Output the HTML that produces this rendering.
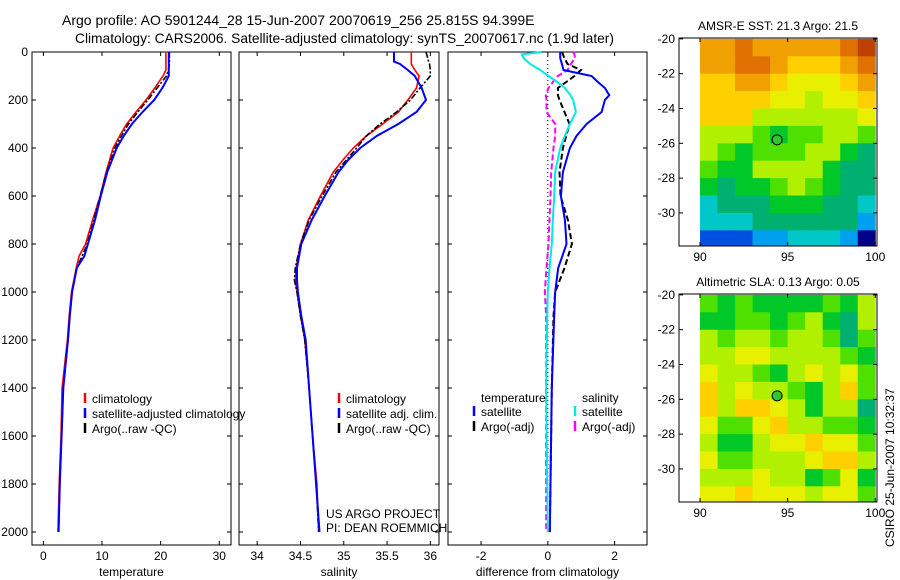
<!DOCTYPE html>
<html><head><meta charset="utf-8"><style>
html,body{margin:0;padding:0;background:#fff;}
svg{display:block;font-family:"Liberation Sans",sans-serif;}
</style></head><body>
<svg id="fig" width="900" height="580" viewBox="0 0 900 580">
<text x="62" y="25" font-size="14">Argo profile: AO 5901244_28 15-Jun-2007 20070619_256 25.815S 94.399E</text>
<text x="75" y="43" font-size="13.8" textLength="539">Climatology: CARS2006. Satellite-adjusted climatology: synTS_20070617.nc (1.9d later)</text>
<text x="0" y="0" font-size="12" transform="translate(894,547) rotate(-90)">CSIRO 25-Jun-2007 10:32:37</text>
</svg>
<script>
// ---- profile data ----
const tDepth = [0,50,75,100,150,200,250,300,350,400,500,600,700,800,850,900,1000,1100,1200,1400,1600,1800,2000];
const tempClim = [20.9,20.9,20.9,20.4,19.0,17.5,15.8,14.2,13.0,11.9,10.7,9.7,8.4,7.2,6.1,5.6,4.8,4.4,4.1,3.2,3.0,2.7,2.5];
const tempSat = [21.4,21.4,21.4,21.4,20.3,18.9,16.9,15.1,13.7,12.5,10.9,9.8,8.8,7.6,7.0,5.7,4.9,4.5,4.2,3.4,3.1,2.8,2.6];
const tempArgo = [21.5,21.5,21.3,21.0,19.4,17.8,16.1,14.5,13.3,12.2,10.8,9.7,8.6,7.5,6.6,5.7,4.9,4.5,4.2,3.4,3.1,2.8,2.6];
const sDepth = [0,25,40,50,75,100,150,200,250,300,350,400,450,500,600,700,800,900,950,1000,1100,1200,1400,1600,1800,2000];
const salClim = [35.78,35.78,35.78,35.78,35.82,35.87,35.84,35.74,35.63,35.45,35.26,35.11,34.99,34.88,34.73,34.59,34.50,34.45,34.44,34.46,34.50,34.55,34.60,34.64,34.69,34.71];
const salSat = [35.58,35.58,35.58,35.65,35.74,35.82,35.90,35.95,35.84,35.63,35.38,35.19,35.05,34.94,34.78,34.63,34.51,34.46,34.46,34.47,34.51,34.56,34.60,34.64,34.68,34.72];
const salArgo = [35.95,35.97,35.98,35.99,36.0,36.0,35.88,35.77,35.61,35.42,35.26,35.15,35.03,34.91,34.75,34.60,34.50,34.44,34.43,34.46,34.50,34.55,34.60,34.64,34.68,34.71];
const dDepth = [0,10,25,50,75,100,125,150,180,200,250,300,350,400,500,600,700,800,900,1000,1100,1400,2000];
const dTempSat = [0.37,0.37,0.37,0.42,0.47,1.31,1.5,1.71,1.84,1.71,1.61,1.16,0.86,0.66,0.45,0.39,0.51,0.56,0.31,0.22,0.19,0.12,0.06];
const dSalSat = [-0.18,-0.78,-0.73,-0.53,-0.23,0.02,0.28,0.51,0.68,0.76,0.84,0.66,0.51,0.37,0.22,0.19,0.15,0.12,0.05,0,-0.02,-0.05,0];
const dTempArgo = [0.43,0.45,0.5,0.59,0.99,0.8,0.55,0.3,0.3,0.35,0.5,0.65,0.55,0.45,0.35,0.38,0.6,0.72,0.5,0.22,0.17,0.12,0.06];
const dSalArgo = [0.76,0.8,0.81,0.69,0.59,0.3,0.15,0.02,-0.06,-0.04,-0.04,0.22,0.22,0.17,0.1,0.08,0.05,0.02,-0.04,-0.09,-0.05,-0.05,-0.05];
const depthTicks = [0,200,400,600,800,1000,1200,1400,1600,1800,2000];
const tempTicks = [0,10,20,30];
const salTicks = [34,34.5,35,35.5,36];
const salTickLabels = ["34","34.5","35","35.5","36"];
const diffTicks = [-2,0,2];
// ---- map data (colour index per 1-degree cell, rows from -20 southward, cols 90..100) ----
const sstGrid = [
[10,10,11,10,10,10,10,10,11,12],
[10,10,11,11,10,9,9,9,10,11],
[9,9,10,10,9,8,8,8,9,10],
[9,9,9,9,8,8,7,8,8,9],
[9,9,9,7,7,7,7,7,7,8],
[7,7,7,6,5,6,6,7,7,6],
[7,6,5,6,6,6,7,7,5,4],
[6,5,5,7,7,7,7,5,4,4],
[5,4,5,5,6,7,6,5,4,4],
[3,4,4,4,5,5,5,4,4,3],
[3,3,3,4,4,4,4,4,4,2],
[1,1,1,2,2,3,3,3,2,0]];
const slaGrid = [
[6,5,6,5,5,5,5,6,5,7],
[5,5,6,6,5,6,7,5,4,7],
[7,6,7,7,6,7,7,6,4,6],
[7,7,8,8,7,7,7,7,6,5],
[8,7,7,6,5,7,8,7,8,6],
[9,7,8,7,7,6,5,7,9,6],
[9,7,9,9,8,7,5,7,7,4],
[8,6,6,8,9,7,7,6,6,5],
[7,5,5,7,8,8,9,8,8,6],
[8,6,6,7,7,7,8,9,9,7],
[7,7,7,8,7,7,5,6,8,5],
[8,8,9,8,8,8,7,8,8,6]];
const palette = ["#00008b","#0050e0","#00a0f0","#00c8c8","#00b070","#00c828","#50e000","#b0f000","#e8f000","#ffd000","#f0a000","#e07000","#c04000"];
const lonTicks = [90,95,100];
const latTicks = [-20,-22,-24,-26,-28,-30];
const floatLon = 94.4, floatLat = -25.8;

const NS = "http://www.w3.org/2000/svg";
const svg = document.getElementById("fig");
function mk(tag, attrs, parent){const e=document.createElementNS(NS,tag);for(const k in attrs)e.setAttribute(k,attrs[k]);(parent||svg).appendChild(e);return e;}

const yTop = 52, yBot = 545, pxPerM = 0.24;
const yD = d => yTop + d*pxPerM;

function panel(name, x0, x1, vmin, vmax, ticks, labels, title, showYLabels){
  const g = mk("g",{});
  
  
  const xs = v => x0 + (v - vmin)/(vmax - vmin)*(x1 - x0);
  const r = mk("rect",{x:x0,y:yTop,width:x1-x0,height:yBot-yTop,fill:"none",stroke:"#000","stroke-width":1},g);
  
  
  depthTicks.forEach(d=>{
    const y=yD(d);
    const t1=mk("line",{x1:x0,x2:x0+4,y1:y,y2:y,stroke:"#000"},g);
    
    
    const t2=mk("line",{x1:x1-4,x2:x1,y1:y,y2:y,stroke:"#000"},g);
    
    
    if(showYLabels){
      const tl=mk("text",{x:x0-4,y:y+4,"font-size":12,"text-anchor":"end"},g);
      tl.textContent=d;
      
      
    }
  });
  ticks.forEach((v,i)=>{
    const x=xs(v);
    const a=mk("line",{x1:x,x2:x,y1:yBot,y2:yBot-4,stroke:"#000"},g);
    
    
    const b=mk("line",{x1:x,x2:x,y1:yTop,y2:yTop+4,stroke:"#000"},g);
    
    
    const tl=mk("text",{x:x,y:560,"font-size":12,"text-anchor":"middle"},g);
    tl.textContent=labels[i];
    
    
  });
  const tt=mk("text",{x:(x0+x1)/2,y:576,"font-size":12,"text-anchor":"middle"},g);
  tt.textContent=title;
  
  
  return {g,xs};
}
function line(p, depths, vals, color, w, dash, name){
  const pts = depths.map((d,i)=>p.xs(vals[i]).toFixed(1)+","+yD(d).toFixed(1)).join(" ");
  const e = mk("polyline",{points:pts,fill:"none",stroke:color,"stroke-width":w},p.g);
  if(dash) e.setAttribute("stroke-dasharray",dash);
  
  
}
function legend(p, x, y, color, label, name){
  const b = mk("line",{x1:x,x2:x,y1:y-10,y2:y,stroke:color,"stroke-width":2.5},p.g);
  
  
  const t = mk("text",{x:x+7,y:y,"font-size":12},p.g);
  t.textContent = label;
  
  
}

const p1 = panel("temperature-panel",32,231,-1.94,32,tempTicks,tempTicks.map(String),"temperature",true);
line(p1,tDepth,tempClim,"#ff0000",1.6,null,"temp-climatology-line");
line(p1,tDepth,tempArgo,"#000",1.6,"6,2,2,2","temp-argo-line");
line(p1,tDepth,tempSat,"#0000ff",2,null,"temp-satellite-line");
legend(p1,85,403,"#ff0000","climatology","legend-climatology");
legend(p1,85,418,"#0000ff","satellite-adjusted climatology","legend-satellite-adjusted");
legend(p1,85,433,"#000","Argo(..raw -QC)","legend-argo");

const p2 = panel("salinity-panel",239,439,33.79,36.1,salTicks,salTickLabels,"salinity",false);
line(p2,sDepth,salClim,"#ff0000",1.6,null,"sal-climatology-line");
line(p2,sDepth,salArgo,"#000",1.6,"6,2,2,2","sal-argo-line");
line(p2,sDepth,salSat,"#0000ff",2,null,"sal-satellite-line");
legend(p2,339,403,"#ff0000","climatology","legend-climatology");
legend(p2,339,418,"#0000ff","satellite adj. clim.","legend-satellite-adj");
legend(p2,339,433,"#000","Argo(..raw -QC)","legend-argo");
const c1=mk("text",{x:326,y:518,"font-size":12},p2.g);c1.textContent="US ARGO PROJECT";


const c2=mk("text",{x:326,y:532,"font-size":12},p2.g);c2.textContent="PI: DEAN ROEMMICH";



const p3 = panel("difference-panel",448,647,-2.99,2.97,diffTicks,diffTicks.map(String),"difference from climatology",false);
const z = mk("line",{x1:p3.xs(0),x2:p3.xs(0),y1:yTop,y2:yD(2000),stroke:"#000","stroke-dasharray":"1,3"},p3.g);


line(p3,dDepth,dSalArgo,"#ff00ff",2,"6,3","diff-sal-argo-line");
line(p3,dDepth,dTempArgo,"#000",2,"6,3","diff-temp-argo-line");
line(p3,dDepth,dSalSat,"#00e8e8",2,null,"diff-sal-satellite-line");
line(p3,dDepth,dTempSat,"#0000ff",2,null,"diff-temp-satellite-line");
const lt=mk("text",{x:481,y:402,"font-size":12},p3.g);lt.textContent="temperature";


const ls=mk("text",{x:582,y:402,"font-size":12},p3.g);ls.textContent="salinity";


legend(p3,474,416,"#0000ff","satellite","legend-temp-satellite");
legend(p3,474,431,"#000","Argo(-adj)","legend-temp-argo");
legend(p3,575,416,"#00e8e8","satellite","legend-sal-satellite");
legend(p3,575,431,"#ff00ff","Argo(-adj)","legend-sal-argo");

// ---- maps ----
function map(name, grid, bx0, bx1, by0, by1, title){
  const g = mk("g",{});
  
  
  const lon0=88.8, lon1=100.1, lat0=-19.95, lat1=-31.9;
  const xs = v => bx0 + (v-lon0)/(lon1-lon0)*(bx1-bx0);
  const ys = v => by0 + (v-lat0)/(lat1-lat0)*(by1-by0);
  grid.forEach((row,r)=>row.forEach((ci,c)=>{
    const x=xs(90+c), y=ys(-20-r);
    const w=xs(91+c)-x+0.5, h=ys(-21-r)-y+0.5;
    const cell=mk("rect",{x:x,y:Math.max(y,by0),width:Math.min(w,bx1-x),height:Math.min(h,by1-Math.max(y,by0)),fill:palette[ci]},g);
    
    
  }));
  const fr=mk("rect",{x:bx0,y:by0,width:bx1-bx0,height:by1-by0,fill:"none",stroke:"#000"},g);
  
  
  latTicks.forEach(v=>{
    const y=ys(v);
    const t=mk("line",{x1:bx0,x2:bx0+4,y1:y,y2:y,stroke:"#000"},g);
    
    
    const t2=mk("line",{x1:bx1-4,x2:bx1,y1:y,y2:y,stroke:"#000"},g);
    
    
    const l=mk("text",{x:bx0-4,y:y+4,"font-size":12,"text-anchor":"end"},g);
    l.textContent=v;
    
    
  });
  lonTicks.forEach(v=>{
    const x=xs(v);
    const t=mk("line",{x1:x,x2:x,y1:by1,y2:by1-4,stroke:"#000"},g);
    
    
    const t2=mk("line",{x1:x,x2:x,y1:by0,y2:by0+4,stroke:"#000"},g);
    
    
    const l=mk("text",{x:x,y:by1+15,"font-size":12,"text-anchor":"middle"},g);
    l.textContent=v;
    
    
  });
  const tt=mk("text",{x:(bx0+bx1)/2,y:by0-8,"font-size":12,"text-anchor":"middle"},g);
  tt.textContent=title;
  
  
  const m=mk("circle",{cx:xs(floatLon),cy:ys(floatLat),r:5,fill:"#30c830",stroke:"#000","stroke-width":1},g);
  
  
}
map("sst-map", sstGrid, 679, 877, 38, 246, "AMSR-E SST: 21.3 Argo: 21.5");
map("sla-map", slaGrid, 679, 877, 294, 502, "Altimetric SLA: 0.13 Argo: 0.05");
</script>
</body></html>
